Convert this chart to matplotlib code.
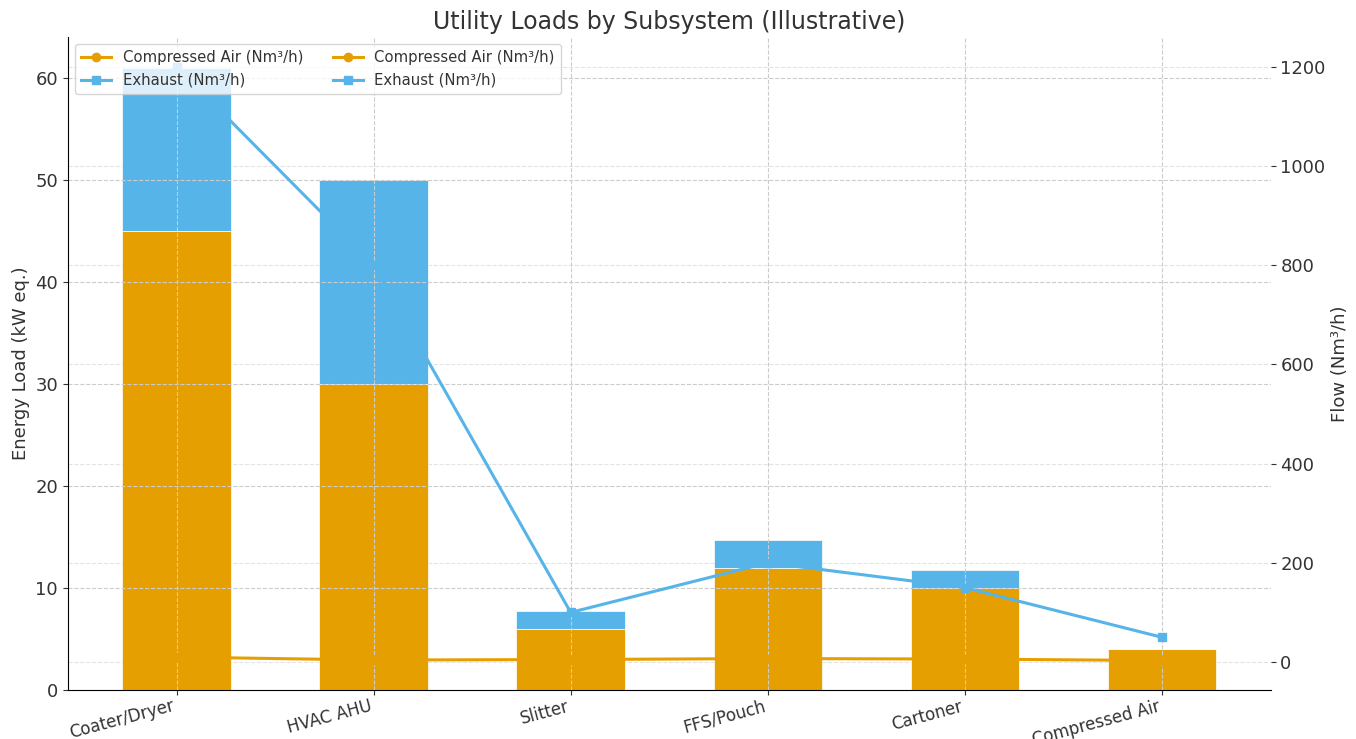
import numpy as np
import matplotlib
matplotlib.use("Agg")
import matplotlib.pyplot as plt

# subsystems and loads (kW eq.)
subsystems = ["Coater/Dryer", "HVAC AHU", "Slitter", "FFS/Pouch", "Cartoner", "Compressed Air"]
load_base = [45, 30, 6, 12, 10, 4]
load_extra = [16, 20, 1.8, 2.7, 1.8, 0]

# flows (Nm³/h)
flow_air = [10, 4, 5, 7, 6, 3]
flow_exhaust = [1200, 800, 100, 200, 150, 50]

orange = "#E69F00"
blue = "#56B4E9"
text_col = "#333333"

plt.rcParams["text.color"] = text_col
plt.rcParams["axes.labelcolor"] = text_col
plt.rcParams["xtick.color"] = text_col
plt.rcParams["ytick.color"] = text_col

x = np.arange(len(subsystems))

fig, ax = plt.subplots(figsize=(13.56, 7.39), dpi=100)
# extra twin only for the right-axis grid, kept behind the bars
ax_grid = ax.twinx()
ax2 = ax.twinx()
ax_grid.set_zorder(0)
ax.set_zorder(1)
ax2.set_zorder(2)
ax.patch.set_visible(False)

ax.bar(x, load_base, width=0.55, color=orange, edgecolor="white", linewidth=0.5)
ax.bar(x, load_extra, width=0.55, bottom=load_base, color=blue, edgecolor="white", linewidth=0.5)
ax.set_ylabel("Energy Load (kW eq.)", fontsize=13)
ax.set_xticks(x)
ax.set_xticklabels(subsystems, rotation=15, ha="right", fontsize=12)
ax.tick_params(axis="x", pad=1.5)
ax.tick_params(axis="y", labelsize=13)
ax.grid(True, linestyle="--", color="#cccccc", linewidth=0.8)
for s in ["top", "right"]:
    ax.spines[s].set_visible(False)

l1, = ax2.plot(x, flow_air, color=orange, marker="o", markersize=6, linewidth=2.2, label="Compressed Air (Nm³/h)")
l2, = ax2.plot(x, flow_exhaust, color=blue, marker="s", markersize=6, linewidth=2.2, label="Exhaust (Nm³/h)")
ax2.set_ylabel("Flow (Nm³/h)", fontsize=13)
ax2.tick_params(axis="y", labelsize=13)
for s in ["top", "right", "left", "bottom"]:
    ax2.spines[s].set_visible(False)
    ax_grid.spines[s].set_visible(False)

ax_grid.set_ylim(ax2.get_ylim())
ax_grid.set_yticks(ax2.get_yticks())
ax_grid.set_ylim(ax2.get_ylim())
ax_grid.tick_params(axis="y", right=False, labelright=False)
ax_grid.grid(True, axis="y", linestyle="--", color="#e3e3e3", linewidth=0.8)

ax2.legend([l1, l2, l1, l2], [l1.get_label(), l2.get_label(), l1.get_label(), l2.get_label()],
           loc="upper left", ncol=2, fontsize=10.7)

ax.set_title("Utility Loads by Subsystem (Illustrative)", fontsize=17)
fig.subplots_adjust(left=0.05, right=0.937, top=0.95, bottom=0.066)
fig.savefig("out.png", dpi=100)
